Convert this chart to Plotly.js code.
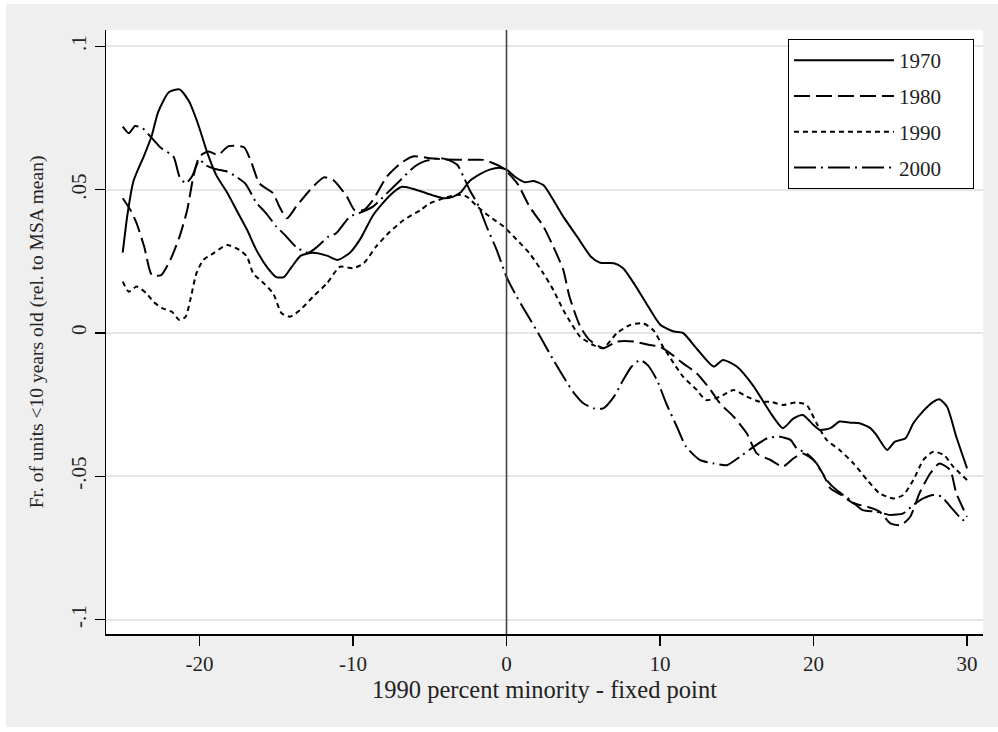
<!DOCTYPE html>
<html>
<head>
<meta charset="utf-8">
<script src="https://cdn.plot.ly/plotly-3.0.1.min.js"></script>
<style>
  html, body { margin: 0; padding: 0; background: #ffffff; }
  #chart { position: absolute; left: 6px; top: 4px; width: 992px; height: 723px; }
</style>
</head>
<body>
<div id="chart"></div>
<script>
// ---- data ----
const seriesNames = ["1970", "1980", "1990", "2000"];

const x1970 = [-25,-24.7,-24.3,-23.6,-23.1,-22.7,-22.0,-21.3,-20.7,-20.1,-19.5,-18.9,-18.2,-17.6,-16.9,-16.3,-15.6,-15.0,-14.5,-14.0,-13.4,-12.6,-11.7,-11.0,-10.2,-9.5,-8.7,-7.6,-6.8,-5.9,-4.8,-4.1,-3.5,-3.0,-2.4,-1.7,-1.1,-0.4,0,0.55,1.2,1.75,2.4,3.05,3.7,4.6,5.5,6.1,7.0,7.6,8.3,9.1,10.0,10.9,11.5,12.4,13.5,14.1,15.0,16.1,17.2,18.0,18.7,19.3,20.0,20.4,21.1,21.7,22.4,23.0,23.7,24.1,24.8,25.3,26.0,26.5,27.2,27.8,28.2,28.7,29.3,30];
const y1970 = [.028,.041,.053,.062,.069,.077,.084,.085,.081,.073,.063,.055,.049,.043,.036,.029,.023,.0195,.0195,.023,.027,.028,.027,.0255,.028,.033,.041,.048,.051,.050,.048,.047,.0475,.049,.053,.0555,.057,.0576,.057,.0545,.0526,.053,.0516,.0464,.0406,.0336,.0266,.0245,.0243,.0226,.0173,.0104,.003,.0005,0,-.0055,-.0117,-.0094,-.0117,-.0186,-.0279,-.0332,-.0298,-.0286,-.0321,-.0338,-.0332,-.0309,-.0313,-.0315,-.0332,-.0356,-.0408,-.0379,-.0367,-.0315,-.0269,-.024,-.0231,-.0257,-.0362,-.0472];

const x1980 = [-25,-24.5,-24.1,-23.6,-23.1,-22.5,-21.9,-21.3,-20.8,-20.4,-20.0,-19.4,-18.8,-18.1,-17.1,-16.6,-16.1,-15.2,-14.8,-14.3,-13.7,-12.8,-11.9,-11.3,-10.4,-9.9,-9.3,-8.7,-7.8,-6.9,-6.1,-5.0,-4.1,-2.4,-1.5,-0.6,-0.2,0.7,1.5,2.4,3.05,3.7,4.1,4.8,5.4,6.3,7.2,8.3,9.35,10.0,10.65,11.5,12.4,13.3,13.9,14.8,15.65,16.3,17.2,18.0,18.7,19.3,20.0,20.6,21.1,21.8,22.6,23.5,24.3,25.0,25.7,26.3,26.9,27.6,28.2,28.9,29.3,30];
const y1980 = [.047,.0429,.0383,.0301,.0202,.0202,.0255,.0336,.0429,.0545,.0616,.0633,.0621,.0652,.0648,.0592,.0522,.0487,.0441,.040,.0441,.0499,.0543,.0534,.0476,.0429,.0429,.0464,.0545,.0592,.0616,.061,.0606,.0604,.0604,.0586,.0574,.0522,.0441,.0372,.0301,.022,.0127,.0023,-.0024,-.0053,-.003,-.003,-.0042,-.0048,-.007,-.0106,-.0141,-.0199,-.0245,-.0292,-.035,-.042,-.0443,-.0466,-.0437,-.042,-.0443,-.049,-.0542,-.0565,-.0594,-.0606,-.0623,-.0664,-.067,-.0641,-.0559,-.049,-.0455,-.0478,-.0559,-.0641];

const x1990 = [-25,-24.6,-24.1,-23.45,-23.0,-22.4,-21.8,-21.3,-20.9,-20.6,-20.2,-19.75,-19.1,-18.2,-17.4,-16.9,-16.5,-15.8,-15.2,-14.65,-14.1,-13.45,-12.6,-11.7,-10.85,-10.0,-9.3,-8.5,-7.6,-6.7,-5.6,-5.0,-4.1,-3.2,-2.6,-1.9,-1.1,-0.2,0.66,1.5,2.4,3.05,3.7,4.14,4.8,5.66,6.3,7.2,8.05,8.9,9.56,10.2,10.9,11.5,12.4,13.0,13.9,14.8,15.65,16.5,17.2,18.0,18.9,19.55,20.2,20.85,21.7,22.6,23.5,24.3,25.2,25.85,26.5,27.15,27.8,28.5,29.1,30];
const y1990 = [.0179,.0144,.0162,.0138,.0109,.0086,.0074,.0045,.0057,.0115,.0208,.0255,.0278,.0307,.029,.0266,.0208,.0173,.0138,.0069,.0057,.008,.0127,.0173,.0231,.0226,.0243,.0301,.0353,.0394,.0429,.0452,.047,.0482,.0476,.0441,.0406,.0372,.0326,.0278,.0208,.015,.008,.004,-.0013,-.0042,-.0053,0,.0028,.0034,.001,-.0048,-.0106,-.0152,-.0199,-.0234,-.0222,-.0199,-.0222,-.024,-.024,-.0251,-.0242,-.0251,-.0315,-.0373,-.0408,-.0455,-.0513,-.0559,-.0577,-.0565,-.0513,-.0443,-.0414,-.0426,-.0466,-.0513];

const x2000 = [-25,-24.6,-24.2,-23.7,-23.1,-22.5,-21.7,-21.3,-20.9,-20.5,-20.0,-19.6,-19.0,-18.3,-17.6,-17.0,-16.3,-15.7,-15.0,-14.4,-13.7,-12.9,-12.3,-11.6,-11.1,-10.2,-9.6,-8.7,-7.8,-6.9,-6.0,-5.4,-4.3,-3.8,-3.2,-2.8,-2.4,-1.8,-1.3,-0.64,0,0.66,1.3,2.2,3.05,3.7,4.4,5.0,5.7,6.3,7.0,7.6,8.15,8.7,9.2,9.8,10.4,11.1,11.7,12.6,13.5,14.35,15.2,16.1,17.0,17.8,18.5,18.9,19.55,20.2,20.85,21.5,22.4,23.2,24.1,25.0,25.85,26.5,27.15,27.8,28.35,28.9,29.5,30];
const y2000 = [.072,.0697,.0722,.0714,.068,.0645,.0616,.0545,.0522,.0545,.0604,.0585,.0572,.0565,.0545,.052,.0455,.042,.0372,.034,.030,.028,.0302,.0336,.0348,.0406,.0418,.0441,.0487,.0534,.058,.0598,.061,.0604,.0586,.0545,.0499,.0441,.0372,.029,.0196,.0127,.0069,-.0013,-.0094,-.0152,-.021,-.0245,-.0263,-.0263,-.0222,-.0164,-.0117,-.0094,-.0112,-.0164,-.0245,-.0327,-.0397,-.0443,-.0455,-.0461,-.0432,-.0397,-.0367,-.0362,-.0373,-.0402,-.042,-.0455,-.0513,-.0548,-.0583,-.0618,-.0623,-.0635,-.0629,-.06,-.0577,-.0565,-.0571,-.0605,-.0641,-.0664];

const xTickVals = [-20, -10, 0, 10, 20, 30];
const xTickText = ["-20", "-10", "0", "10", "20", "30"];
const yTickVals = [-0.1, -0.05, 0, 0.05, 0.1];
const yTickText = ["-.1", "-.05", "0", ".05", ".1"];
const refLineX = 0;

const xTitle = "1990 percent minority - fixed point";
const yTitle = "Fr. of units <10 years old (rel. to MSA mean)";

// ---- styles ----
const FONT = "Liberation Serif, Times New Roman, serif";
const dashes = ["solid", "16px,6px", "5px,4px", "22px,5px,2px,5px"];
const legendPad = "\u00a0\u00a0\u00a0\u00a0\u00a0";
const xs = [x1970, x1980, x1990, x2000];
const ys = [y1970, y1980, y1990, y2000];

const traces = seriesNames.map((name, i) => ({
  type: "scatter",
  mode: "lines",
  name: name + legendPad,
  legendgroup: "g" + i,
  x: xs[i],
  y: ys[i],
  line: { color: "#000000", width: 2, dash: dashes[i], shape: "spline", smoothing: 0.6 },
  hoverinfo: "skip"
}));

const layout = {
  width: 992,
  height: 723,
  paper_bgcolor: "#efefef",
  plot_bgcolor: "#ffffff",
  margin: { l: 100, r: 15, t: 26, b: 93, pad: 0 },
  font: { family: FONT, color: "#222222", size: 21 },
  showlegend: true,
  legend: {
    x: 0.9897, y: 0.985, xanchor: "right", yanchor: "top",
    bgcolor: "#ffffff", bordercolor: "#000000", borderwidth: 1,
    font: { family: FONT, size: 21, color: "#222222" },
    traceorder: "grouped",
    tracegroupgap: 5.5,
    itemwidth: 100
  },
  xaxis: {
    range: [-26.09, 31.04],
    tickvals: xTickVals, ticktext: xTickText,
    ticks: "outside", ticklen: 10, tickwidth: 1.2, tickcolor: "#000000",
    showline: true, linecolor: "#000000", linewidth: 1.5,
    showgrid: false, zeroline: false,
    tickfont: { family: FONT, size: 21, color: "#222222" },
    title: { text: xTitle, font: { family: FONT, size: 24.5, color: "#222222" }, standoff: 2 }
  },
  yaxis: {
    range: [-0.105, 0.1057],
    tickvals: yTickVals, ticktext: yTickText, tickangle: -90,
    ticks: "outside", ticklen: 10, tickwidth: 1.2, tickcolor: "#000000",
    showline: true, linecolor: "#000000", linewidth: 1.5,
    showgrid: true, gridcolor: "#e6e6e6", gridwidth: 2, zeroline: false,
    tickfont: { family: FONT, size: 21, color: "#222222" },
    title: { text: yTitle, font: { family: FONT, size: 19.5, color: "#222222" }, standoff: 18 }
  },
  shapes: [{
    type: "line", xref: "x", yref: "paper",
    x0: refLineX, x1: refLineX, y0: 0, y1: 1,
    line: { color: "#444444", width: 1.6 }
  }]
};

Plotly.newPlot("chart", traces, layout, { staticPlot: true, displayModeBar: false });
</script>
</body>
</html>
